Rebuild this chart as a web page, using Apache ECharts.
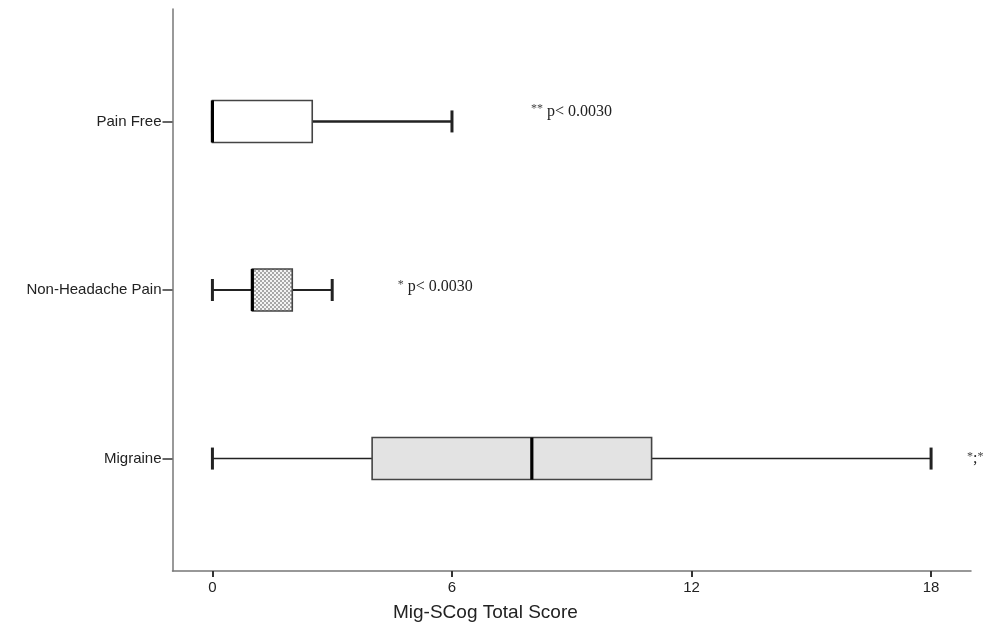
<!DOCTYPE html>
<html>
<head>
<meta charset="utf-8">
<script src="https://cdn.jsdelivr.net/npm/echarts@6/dist/echarts.min.js"></script>
<style>html,body{margin:0;padding:0;background:#fff}#c{width:990px;height:623px}</style>
</head>
<body>
<div id="c"></div>
<script>
// ---- data ----
const categories = ['Migraine', 'Non-Headache Pain', 'Pain Free'];
const minVals    = [0, 0, 0];
const q1Vals     = [4, 1, 0];
const medianVals = [8, 1, 0];
const q3Vals     = [11, 2, 2.5];
const maxVals    = [18, 3, 6];
const xTicks     = [0, 6, 12, 18];
const catTicks   = [0, 1, 2];
const annotPrefix = ['*;*', '*', '**'];
const annotBody   = ['', ' p< 0.0030', ' p< 0.0030'];
const annotX      = [18.9, 4.64, 7.98];
const annotY      = [0, 1.02, 2.06];
const xTitle = 'Mig-SCog Total Score';

// styles (not data)
const whiskerWidths = [1.6, 2, 2.6];
const pc = document.createElement('canvas');
pc.width = 4; pc.height = 4;
const pctx = pc.getContext('2d');
pctx.fillStyle = '#f4f4f4'; pctx.fillRect(0, 0, 4, 4);
pctx.fillStyle = '#a8a8a8';
pctx.fillRect(0, 0, 2, 2); pctx.fillRect(2, 2, 2, 2);
const boxFills = ['#e3e3e3', { image: pc, repeat: 'repeat' }, '#ffffff'];

const boxData = categories.map((c, i) => [i, minVals[i], q1Vals[i], medianVals[i], q3Vals[i], maxVals[i]]);
const annotData = annotX.map((x, i) => [x, annotY[i], i]);

const chart = echarts.init(document.getElementById('c'), null, { renderer: 'canvas' });
chart.setOption({
  animation: false,
  backgroundColor: '#fff',
  grid: { left: 172.5, right: 19, top: 9, bottom: 52 },
  xAxis: {
    type: 'value', min: -1, max: 19,
    splitLine: { show: false },
    axisLine: { show: true, onZero: false, lineStyle: { color: '#777', width: 1.5 } },
    axisTick: { show: true, customValues: xTicks, length: 6, lineStyle: { color: '#333', width: 2 } },
    axisLabel: { customValues: xTicks, margin: 9, fontSize: 15, color: '#222', fontFamily: 'Liberation Sans, Arial, sans-serif' }
  },
  yAxis: {
    type: 'value', min: -0.667, max: 2.667,
    splitLine: { show: false },
    axisLine: { show: true, onZero: false, lineStyle: { color: '#777', width: 1.5 } },
    axisTick: { show: true, customValues: catTicks, length: 10, lineStyle: { color: '#333', width: 1.5 } },
    axisLabel: {
      customValues: catTicks, margin: 11, fontSize: 15, color: '#222',
      fontFamily: 'Liberation Sans, Arial, sans-serif',
      formatter: v => categories[Math.round(v)] || ''
    }
  },
  graphic: [{
    type: 'text', left: 393, top: 603,
    style: { text: xTitle, fontSize: 19, fill: '#222', fontFamily: 'Liberation Sans, Arial, sans-serif' }
  }],
  series: [{
    type: 'custom',
    data: boxData,
    encode: { x: [1, 2, 3, 4, 5], y: 0 },
    renderItem: function (params, api) {
      const i = api.value(0);
      const y = api.coord([0, i])[1];
      const xmin = api.coord([api.value(1), i])[0];
      const xq1 = api.coord([api.value(2), i])[0];
      const xmed = api.coord([api.value(3), i])[0];
      const xq3 = api.coord([api.value(4), i])[0];
      const xmax = api.coord([api.value(5), i])[0];
      const bh = 21, cap = 11;
      const wl = { stroke: '#222', lineWidth: whiskerWidths[i] };
      const cl = { stroke: '#222', lineWidth: 3 };
      return {
        type: 'group',
        children: [
          { type: 'line', shape: { x1: xmin, y1: y, x2: xq1, y2: y }, style: wl },
          { type: 'line', shape: { x1: xq3, y1: y, x2: xmax, y2: y }, style: wl },
          { type: 'line', shape: { x1: xmin, y1: y - cap, x2: xmin, y2: y + cap }, style: cl },
          { type: 'line', shape: { x1: xmax, y1: y - cap, x2: xmax, y2: y + cap }, style: cl },
          { type: 'rect', shape: { x: xq1, y: y - bh, width: xq3 - xq1, height: 2 * bh },
            style: { fill: boxFills[i], stroke: '#444', lineWidth: 1.6 } },
          { type: 'line', shape: { x1: xmed, y1: y - bh, x2: xmed, y2: y + bh },
            style: { stroke: '#000', lineWidth: 3.2 } }
        ]
      };
    }
  }, {
    type: 'custom',
    data: annotData,
    encode: { x: 0, y: 1 },
    renderItem: function (params, api) {
      const p = api.coord([api.value(0), api.value(1)]);
      const k = api.value(2);
      const pre = annotPrefix[k].split(';').map(s => '{s|' + s + '}').join('{n|;}');
      return {
        type: 'text', x: p[0], y: p[1],
        style: {
          text: pre + '{n|' + annotBody[k] + '}',
          verticalAlign: 'middle', align: 'left',
          rich: {
            s: { fontSize: 12, fill: '#444', fontFamily: 'Liberation Serif, Times New Roman, serif', padding: [0, 0, 4, 0] },
            n: { fontSize: 16, fill: '#222', fontFamily: 'Liberation Serif, Times New Roman, serif' }
          }
        }
      };
    }
  }]
});
</script>
</body>
</html>
